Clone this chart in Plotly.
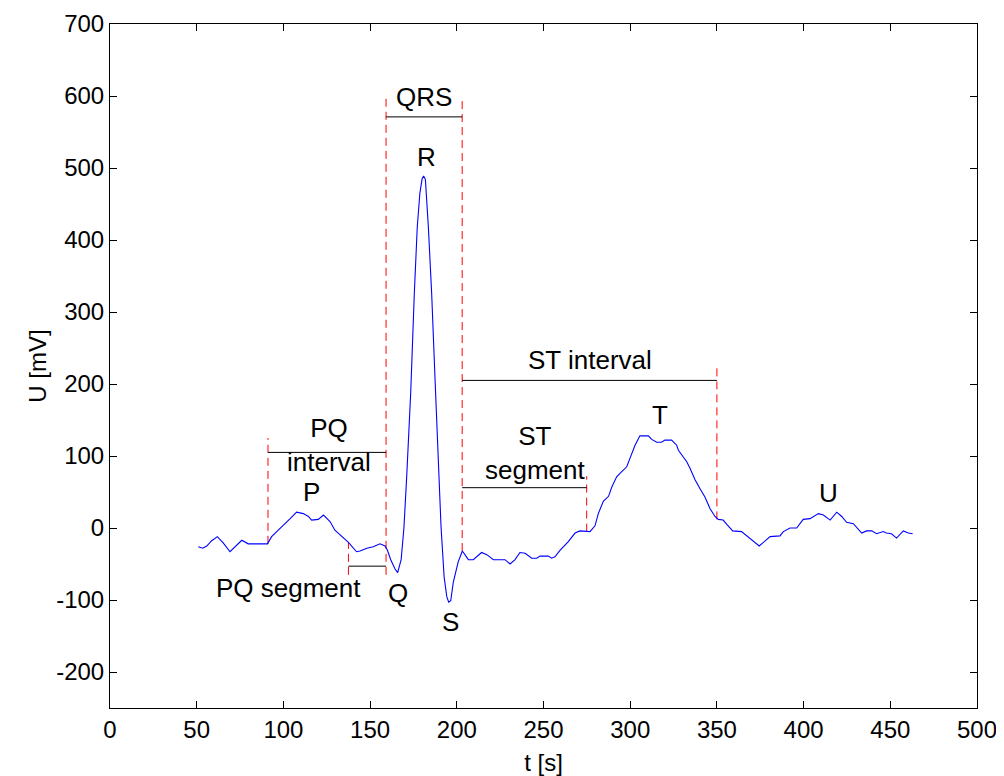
import plotly.graph_objects as go

# ECG trace (t [s], U [mV])
t = [50.9, 53.5, 55.8, 58.5, 61.9, 65.4, 69.2, 73.0, 76.0, 79.7, 90.8, 93.2, 97.1, 100.0, 103.9,
     107.6, 111.5, 114.4, 116.3, 120.1, 123.1, 126.9, 129.7, 133.6, 137.5, 142.2, 144.2, 148.1,
     151.8, 155.7, 158.6, 160.0, 161.9, 164.4, 165.9, 167.9, 169.5, 171.1, 173.4, 175.5, 177.2,
     178.7, 180.0, 180.9, 181.9, 183.6, 185.5, 187.4, 189.3, 190.9, 192.7, 194.2, 195.3, 196.5,
     198.0, 200.8, 203.2, 204.8, 206.7, 209.5, 214.3, 217.3, 221.1, 227.8, 230.7, 233.6, 236.4,
     239.4, 243.2, 246.1, 248.0, 252.8, 254.7, 256.6, 259.5, 264.3, 268.2, 271.0, 272.9, 274.9,
     276.8, 279.7, 281.6, 284.5, 287.5, 289.4, 292.2, 294.1, 298.0, 299.9, 302.8, 305.6, 310.5,
     312.4, 315.3, 318.1, 320.0, 323.9, 326.8, 327.8, 332.6, 334.5, 337.4, 340.2, 343.1, 346.0,
     348.9, 350.8, 353.6, 356.1, 359.1, 364.2, 369.1, 374.4, 380.7, 386.4, 388.3, 392.2, 396.0,
     399.8, 403.7, 408.5, 411.4, 415.3, 419.1, 422.0, 424.8, 428.7, 433.5, 436.3, 439.3, 442.1,
     445.9, 447.7, 450.7, 453.6, 457.5, 460.4, 462.9]
U = [-26, -28, -25, -18, -12, -21, -33, -24, -17, -22, -22, -12, -2, 4, 13,
     22, 20, 16, 11, 12, 18, 9, -3, -12, -20, -33, -32, -28,
     -26, -22, -25, -31, -44, -57, -62, -44, 0, 71, 187, 326, 418,
     465, 485, 489, 484, 418, 326, 210, 94, 2, -68, -95, -103, -101,
     -75, -47, -32, -38, -44, -44, -34, -37, -44, -44, -50, -44, -34,
     -35, -42, -42, -39, -39, -42, -40, -31, -19, -7, -4, -4, -5,
     -5, 3, 20, 37, 44, 57, 71, 76, 85, 97, 115, 128, 128,
     123, 119, 119, 122, 122, 115, 108, 92, 83, 67, 55, 43, 27,
     16, 12, 11, 4, -4, -5, -14, -25, -12, -11, -5, 0, 0,
     12, 13, 20, 18, 11, 22, 16, 8, 6, -7, -4, -4, -8,
     -5, -7, -8, -14, -4, -7, -8]

# red dashed markers: x position, bottom, top
mark_x = [91.1, 137.5, 159.2, 203.1, 274.9, 350.0]
mark_lo = [-22, -65, -65, -32, -5, 12]
mark_hi = [125, -20, 600, 600, 72, 222]

# black interval bars: start, end, level
bar_x0 = [91.1, 137.5, 159.2, 203.1, 203.1]
bar_x1 = [159.2, 159.2, 203.1, 350.0, 274.9]
bar_y = [105, -53, 571, 205, 56]

# labels
lab_text = ["P", "PQ<br>interval", "PQ segment", "Q", "QRS", "R", "S", "ST interval",
            "ST<br>segment", "T", "U"]
lab_x = [116.0, 126.1, 102.9, 165.9, 181.1, 182.3, 196.1, 276.8, 245.1, 317.2, 414.1]
lab_y = [50, 115, -83, -90, 599, 515, -131, 233, 104, 157, 49]

x_ticks = [0, 50, 100, 150, 200, 250, 300, 350, 400, 450, 500]
y_ticks = [-200, -100, 0, 100, 200, 300, 400, 500, 600, 700]
y_tick_text = ["-200", "-100", "0", "100", "200", "300", "400", "500", "600", "700"]

FONT = "Liberation Sans, Arial, sans-serif"
fig = go.Figure()

for x, lo, hi in zip(mark_x, mark_lo, mark_hi):
    fig.add_trace(go.Scatter(x=[x, x], y=[lo, hi], mode="lines",
                             line=dict(color="#ff0000", width=1, dash="8px,5px"),
                             hoverinfo="skip", showlegend=False))
for x0, x1, y in zip(bar_x0, bar_x1, bar_y):
    fig.add_trace(go.Scatter(x=[x0, x1], y=[y, y], mode="lines",
                             line=dict(color="#000000", width=1),
                             hoverinfo="skip", showlegend=False))

fig.add_trace(go.Scatter(x=t, y=U, mode="lines", line=dict(color="#0000ff", width=1.1),
                         showlegend=False))

for txt, x, y in zip(lab_text, lab_x, lab_y):
    fig.add_annotation(x=x, y=y, xref="x", yref="y", text=txt, showarrow=False,
                       font=dict(family=FONT, size=26, color="#000000"))

axis_common = dict(showgrid=False, zeroline=False, showline=True, linecolor="#000000",
                   linewidth=1, mirror="ticks", ticks="inside", ticklen=7, tickcolor="#000000",
                   automargin=False,
                   tickfont=dict(family=FONT, size=24, color="#000000"))
fig.update_xaxes(range=[0, 500], tickvals=x_ticks, title=dict(text="t [s]", standoff=16,
                 font=dict(family=FONT, size=24, color="#000000")), **axis_common)
fig.update_yaxes(range=[-250, 700], tickvals=y_ticks, ticktext=y_tick_text,
                 title=dict(text="U [mV]", standoff=2,
                 font=dict(family=FONT, size=24, color="#000000")), **axis_common)

fig.update_layout(width=996, height=768, paper_bgcolor="#ffffff", plot_bgcolor="#ffffff",
                  margin=dict(l=102, r=27, t=16, b=68),
                  font=dict(family=FONT, size=24, color="#000000"))

fig.write_html("out.html")
